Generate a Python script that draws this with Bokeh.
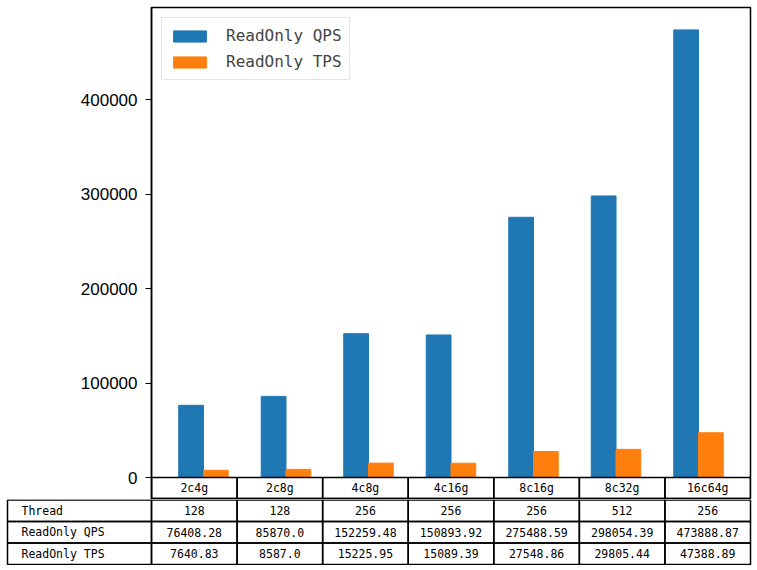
import numpy as np
from bokeh.plotting import figure
from bokeh.models import Range1d, FixedTicker, BasicTickFormatter, Legend, LegendItem
from bokeh.embed import file_html
from bokeh.resources import INLINE
from bokeh.core.properties import value

configs = ["2c4g", "2c8g", "4c8g", "4c16g", "8c16g", "8c32g", "16c64g"]
threads = [128, 128, 256, 256, 256, 512, 256]
qps = [76408.28, 85870.0, 152259.48, 150893.92, 275488.59, 298054.39, 473888.87]
tps = [7640.83, 8587.0, 15225.95, 15089.39, 27548.86, 29805.44, 47388.89]
row_labels = ["Thread", "ReadOnly QPS", "ReadOnly TPS"]
y_ticks = [0, 100000, 200000, 300000, 400000]

BLUE = "#1f77b4"
ORANGE = "#ff7f0e"
MONO = "DejaVu Sans Mono"
TFS = "11.5px"

n = len(configs)
x = np.arange(n)
bw = 0.3
lo = x[0] - bw / 2
hi = x[-1] + bw + bw / 2
pad = 0.05 * (hi - lo)
x0, x1 = lo - pad, hi + pad
ymax = max(qps) * 1.05

# layout constants (pixels)
W = 757
LEFT = 151          # frame left
RIGHT = 7           # space right of frame
TOP = 7             # frame top
PLOT_H = 470        # height of bar area (frame top -> zero line)
HDR_H = 21          # header row height
ROW_H = 21.67       # body row height
LABEL_L = 7         # left edge of the row label column

frame_w = W - LEFT - RIGHT
px_per_y = PLOT_H / ymax
y_start = -(HDR_H + 1) / PLOT_H * ymax
hdr_bottom = -HDR_H / PLOT_H * ymax

p = figure(width=W, height=TOP + PLOT_H + HDR_H + 1, x_range=Range1d(x0, x1), y_range=Range1d(y_start, ymax),
           x_axis_location=None, output_backend="svg", toolbar_location=None,
           min_border_left=LEFT, min_border_right=RIGHT, min_border_top=TOP, min_border_bottom=0)
p.background_fill_color = "white"
p.border_fill_color = "white"
p.outline_line_color = "black"
p.outline_line_width = 1.5
p.xgrid.grid_line_color = None
p.ygrid.grid_line_color = None

r1 = p.vbar(x=x, top=qps, width=bw, color=BLUE)
r2 = p.vbar(x=x + bw, top=tps, width=bw, color=ORANGE)

ax = p.yaxis[0]
ax.ticker = FixedTicker(ticks=y_ticks)
ax.formatter = BasicTickFormatter(use_scientific=False)
ax.major_label_text_font = "Liberation Sans"
ax.major_label_text_font_size = "17px"
ax.major_label_text_color = "black"
ax.major_tick_out = 6
ax.major_tick_in = 0
ax.major_tick_line_width = 1.2
ax.minor_tick_out = 0
ax.minor_tick_in = 0
ax.major_label_standoff = 8
ax.axis_line_width = 1.5

legend = Legend(items=[LegendItem(label="ReadOnly QPS", renderers=[r1]),
                       LegendItem(label="ReadOnly TPS", renderers=[r2])],
                location="top_left")
legend.label_text_font = MONO
legend.label_text_font_size = "16px"
legend.glyph_width = 41
legend.glyph_height = 14
legend.label_standoff = 16
legend.padding = 7
legend.spacing = 5
legend.label_height = 21
legend.margin = 10
legend.border_line_color = "#cccccc"
legend.border_line_width = 1.5
legend.background_fill_alpha = 1.0
p.add_layout(legend)

# header row of the table (category names), inside the bar figure below zero
col_w = (x1 - x0) / n
cl = x0 + x * col_w
p.quad(left=cl, right=cl + col_w, top=np.zeros(n), bottom=np.full(n, hdr_bottom),
       fill_color=None, line_color="black", line_width=1.5)
p.text(x=cl + col_w / 2, y=np.full(n, hdr_bottom / 2), text=configs, text_font=value(MONO),
       text_font_size=TFS, text_align="center", text_baseline="middle", text_color="black")

# ---- table body ----
col_px = frame_w / n
label_w = (LEFT - LABEL_L) / col_px
xs = -LEFT / col_px
xe = xs + W / col_px
TH = 66
t = figure(width=W, height=TH, x_range=Range1d(xs, xe),
           y_range=Range1d(4 + 1.0 / ROW_H, 1 - 0.5 / ROW_H),
           x_axis_location=None, y_axis_location=None, output_backend="svg", toolbar_location=None,
           min_border_left=0, min_border_right=0, min_border_top=0, min_border_bottom=0)
t.outline_line_color = None
t.xgrid.grid_line_color = None
t.ygrid.grid_line_color = None
t.background_fill_color = "white"
t.border_fill_color = "white"

rows = [[str(v) for v in threads], [str(v) for v in qps], [str(v) for v in tps]]

for r, (lab, vals) in enumerate(zip(row_labels, rows), start=1):
    t.quad(left=x, right=x + 1, top=np.full(n, r), bottom=np.full(n, r + 1),
           fill_color=None, line_color="black", line_width=1.5)
    t.quad(left=[-label_w], right=[0], top=[r], bottom=[r + 1],
           fill_color=None, line_color="black", line_width=1.5)
    t.text(x=x + 0.5, y=np.full(n, r + 0.5), text=vals, text_font=value(MONO), text_font_size=TFS,
           text_align="center", text_baseline="middle", text_color="black")
    t.text(x=[-label_w], y=[r + 0.5], text=[lab], x_offset=14, text_font=value(MONO),
           text_font_size=TFS, text_align="left", text_baseline="middle", text_color="black")

open("out.html", "w").write(file_html([p, t], INLINE))
